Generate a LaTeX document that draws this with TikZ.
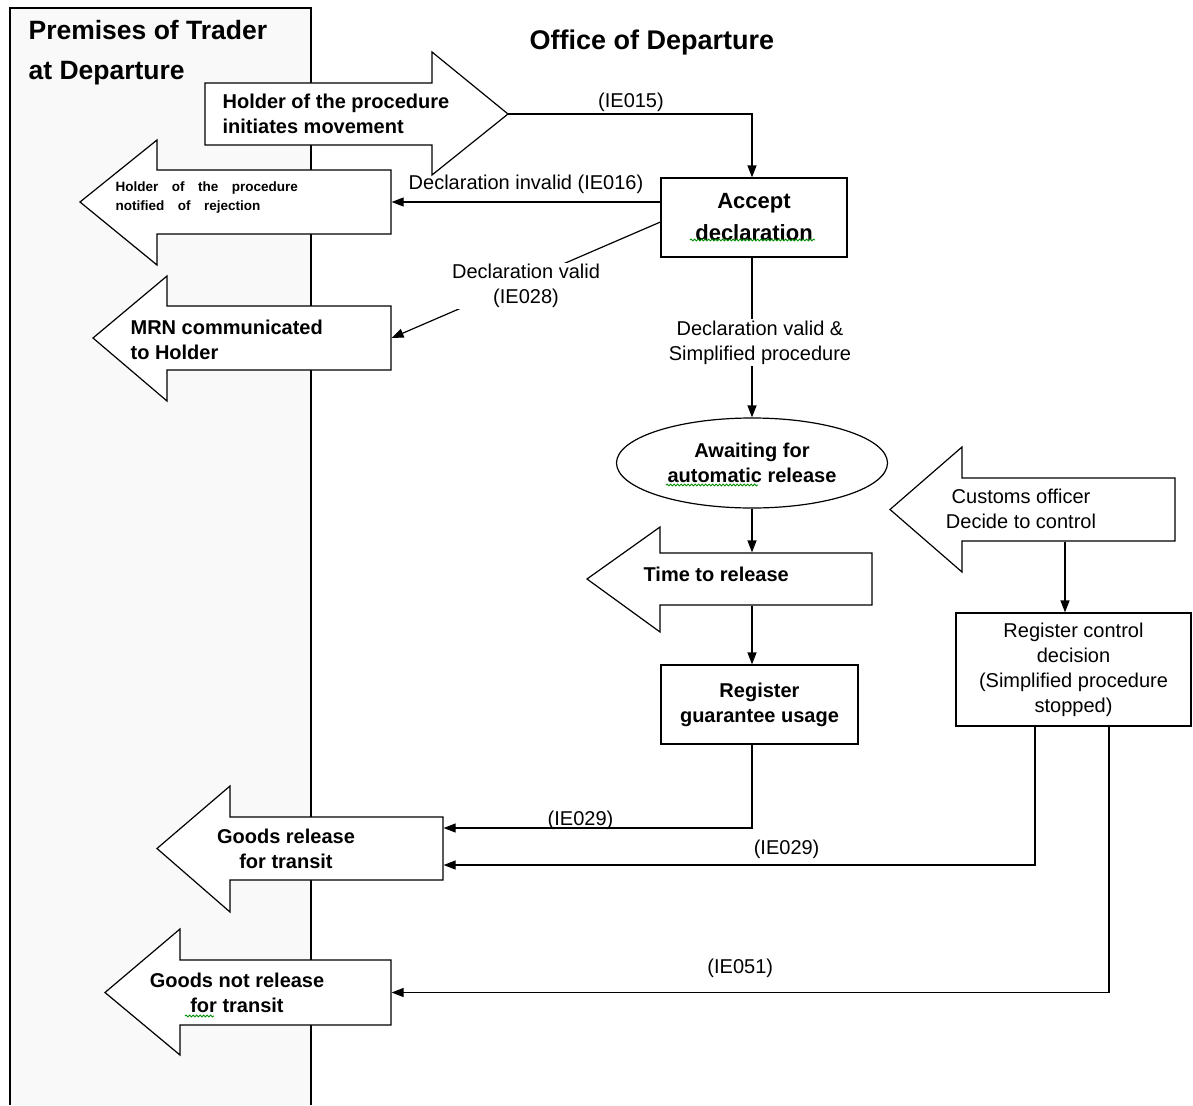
\documentclass[tikz,border=0pt]{standalone}
\usepackage{fontspec}
\setmainfont{Liberation Sans}
\usetikzlibrary{arrows.meta,shapes.geometric,fit,decorations.pathmorphing}
\newcommand{\wsp}{\hspace{13.5pt}}
% #1 name, #2 body start (at head), #3 body end, #4 top, #5 bottom, #6 tip x, #7 head top, #8 head bottom
\newcommand{\RArrow}[8]{%
  \draw[arrowshape] (#2,#4) -- (#3,#4) -- (#3,#7) -- (#6,{(#4+#5)/2}) -- (#3,#8) -- (#3,#5) -- (#2,#5) -- cycle;
  \node[fit={(#2,#4) (#3,#5)}] (#1) {};
  \coordinate (#1tip) at (#6,{(#4+#5)/2});}
\newcommand{\LArrow}[8]{%
  \draw[arrowshape] (#3,#4) -- (#2,#4) -- (#2,#7) -- (#6,{(#4+#5)/2}) -- (#2,#8) -- (#2,#5) -- (#3,#5) -- cycle;
  \node[fit={(#2,#4) (#3,#5)}] (#1) {};}
\begin{document}
\begin{tikzpicture}[x=1pt,y=-1pt, line width=1.2pt,
  every node/.style={inner sep=0pt, font=\fontsize{20}{25}\selectfont},
  bold/.style={font=\fontsize{20}{25}\selectfont\bfseries},
  box/.style={draw, fill=white, align=center},
  arrowshape/.style={draw, fill=white},
  arr/.style={-{Triangle[length=12pt,width=9pt]}},
  lbl/.style={align=center},
  squig/.style={draw=green!55!black, line width=0.9pt, decorate, decoration={snake, amplitude=0.9pt, segment length=3.5pt}}]
\useasboundingbox (0,0) rectangle (1193,1105);
% left pane
\fill[gray!5] (10,8) rectangle (311,1105);
\draw (10,1105) -- (10,8) -- (311,8) -- (311,1105);
\node[font=\fontsize{26.5}{40}\selectfont\bfseries, anchor=west, align=left] (pt) at (28,53) {Premises of Trader\\at Departure};
\node[font=\fontsize{27}{32}\selectfont\bfseries] (od) at (652,43) {Office of Departure};

% block arrows
\RArrow{hold}{205}{432}{83}{145}{508}{52}{175}
\LArrow{rej}{157}{391}{170}{234}{80}{140}{265}
\LArrow{mrn}{167}{391}{306}{370}{93}{276}{401}
\LArrow{time}{660}{872}{553}{605}{587}{527}{632}
\LArrow{cust}{962}{1175}{478}{541}{890}{447}{572}
\LArrow{rel}{230}{443}{817}{880}{157}{786}{912}
\LArrow{nrel}{180}{391}{960}{1025}{105}{929}{1055}

\node[bold, anchor=west, align=left] (holdT) at (222,113.5) {Holder of the procedure\\initiates movement};
\node[font=\fontsize{13.5}{19}\selectfont\bfseries, anchor=west, align=left] (rejT) at (115,197.5) {Holder\wsp of\wsp the\wsp procedure\\notified\wsp of\wsp rejection};
\node[bold, anchor=west, align=left] (mrnT) at (130,339.5) {MRN communicated\\to Holder};
\node[bold, anchor=west] (timeT) at (643,574) {Time to release};
\node[align=center] (custT) at (1021,508.5) {Customs officer\\Decide to control};
\node[bold, align=center] (relT) at (286,848.5) {Goods release\\for transit};
\node[bold, align=center] (nrelT) at (237,993) {Goods not release\\for transit};

% boxes
\node[box, font=\fontsize{22}{32}\selectfont\bfseries, minimum width=186pt, minimum height=79pt] (acc) at (754,217.5) {Accept\\declaration};
\node[box, bold, ellipse, minimum width=271pt, minimum height=90pt] (ell) at (752,463) {Awaiting for\\automatic release};
\node[box, bold, minimum width=197pt, minimum height=79pt] (reg) at (759.5,704.5) {Register\\guarantee usage};
\node[box, minimum width=235pt, minimum height=113pt] (ctl) at (1073.5,669.5) {Register control\\decision\\(Simplified procedure\\stopped)};

% spelling squiggles
\draw[squig] (690,240) -- (815,240);
\draw[squig] (666,485) -- (758,485);
\draw[squig] (185,1016) -- (214,1016);

% connectors
\draw[arr] (holdtip) -| (acc.north -| ell.north) node[pos=0.252, yshift=12pt] {(IE015)};
\draw[arr] (acc.west |- rej.east) -- (rej.east) node[midway, above=8pt] {Declaration invalid (IE016)};
\draw[arr] ([yshift=-4.5pt]acc.west) -- (mrn.east) node[midway, yshift=-6pt, fill=white, inner sep=1pt, lbl] {Declaration valid\\(IE028)};
\draw[arr] (acc.south -| ell.north) -- (ell.north) node[midway, xshift=8pt, yshift=-5pt, fill=white, inner sep=2pt, lbl] {Declaration valid \&\\Simplified procedure};
\draw[arr] (ell.south) -- (time.north -| ell.south);
\draw[arr] (time.south -| ell.south) -- (reg.north -| ell.south);
\draw[arr] (reg.south -| ell.south) |- ([yshift=20.5pt]rel.east) node[pos=0.778, yshift=8pt] {(IE029)};
\draw[arr] ([xshift=-3.5pt]cust.south) -- ([xshift=-8.5pt]ctl.north);
\draw[arr] ([xshift=-38.5pt]ctl.south) |- ([yshift=-16.5pt]rel.east) node[pos=0.71, yshift=16pt] {(IE029)};
\draw[arr] ([xshift=35.5pt]ctl.south) |- (nrel.east) node[pos=0.757, yshift=24pt] {(IE051)};
\end{tikzpicture}
\end{document}
